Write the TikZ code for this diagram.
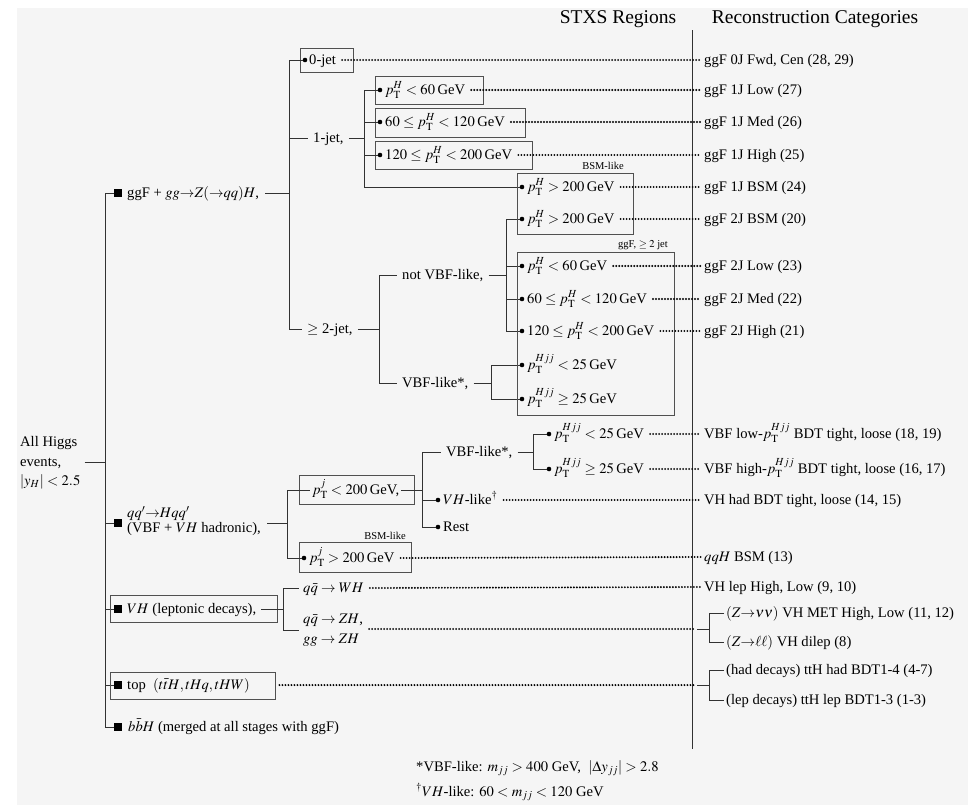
\documentclass[tikz,border=0pt]{standalone}
\usepackage{mathptmx}
\usepackage{fontspec}
\setmainfont{Liberation Serif}
\usetikzlibrary{fit}
\definecolor{bgc}{RGB}{245,245,245}
\definecolor{lnc}{RGB}{50,50,50}
\definecolor{bxc}{RGB}{80,80,80}
\tikzset{
  base/.style={font=\fontsize{14.6}{19}\selectfont, inner sep=2pt},
  txt/.style={base, anchor=west, text height=11pt, text depth=3pt},
  mtxt/.style={base, anchor=west, align=left},
  small/.style={font=\fontsize{10.5}{12}\selectfont, inner sep=0pt},
  ttl/.style={font=\fontsize{19.5}{23}\selectfont, inner sep=0pt},
  sqm/.style={fill=black, minimum size=7.5pt, inner sep=0pt},
  dotm/.style={circle, fill=black, minimum size=4.6pt, inner sep=0pt},
  conn/.style={draw=lnc, line width=0.9pt},
  dots/.style={draw=black, line width=2.1pt, line cap=round, dash pattern=on 0pt off 3pt, shorten <=4pt, shorten >=1pt},
  boxn/.style={draw=bxc, line width=0.9pt, inner sep=0pt},
}
\begin{document}
\begin{tikzpicture}[x=1pt,y=-1pt]
\useasboundingbox (0,0) rectangle (970,807);
\fill[bgc] (17,8) rectangle (968,805);

% titles
\node[ttl] (tSTXS) at (618,19) {STXS Regions};
\node[ttl] (tRC) at (815,19) {Reconstruction Categories};
\coordinate (sepT) at (692,30);
\coordinate (sepB) at (692,749);
\draw[conn] (sepT) -- (sepB);

% root
\node[mtxt, font=\fontsize{14.6}{19.5}\selectfont] (root) at (18,463) {All Higgs\\events,\\$|y_H| < 2.5$};
\coordinate (rb) at (105,462);
\draw[conn, shorten <=2pt] (root.east |- rb) -- (rb);

% level-1 squares and texts
\node[sqm] (s1) at (118,193) {};
\node[sqm] (s2) at (118,523) {};
\node[sqm] (s3) at (118,609) {};
\node[sqm] (s4) at (118,685) {};
\node[sqm] (s5) at (118,727) {};
\draw[conn] (s1.west -| rb) -- (s5.west -| rb);
\foreach \s in {s1,s2,s3,s4,s5} \draw[conn] (\s.west -| rb) -- (\s.west);

\node[txt] (l1) at (125,193) {ggF + $gg{\to}Z({\to}qq)H$,};
\node[mtxt, font=\fontsize{14.6}{15.5}\selectfont] (l2) at (125,521) {$qq'{\to}Hqq'$\\(VBF + $VH$ hadronic),};
\node[txt] (l3) at (125,609) {$VH$ (leptonic decays),};
\node[boxn, fit={(110,595)(277,622)}] (bx3) {};
\node[txt] (l4) at (125,685) {top\ \ $(t\bar{t}H, tHq, tHW)$};
\node[boxn, fit={(110,672)(275,699)}] (bx4) {};
\node[txt] (l5) at (126,727) {$b\bar{b}H$ (merged at all stages with ggF)};

% ggF subtree
\coordinate (gb) at (289,193);
\draw[conn, shorten <=4pt] (l1.east) -- (gb);
\node[dotm] (d0) at (305,60) {};
\node[txt] (n0) at (307,60) {0-jet};
\node[boxn, fit={(300,48)(353,72)}] (b0) {};
\node[txt] (j1) at (311,138) {1-jet,};
\node[txt] (j2) at (305,329) {$\geq$ 2-jet,};
\draw[conn] (d0 -| gb) -- (j2.west -| gb);
\draw[conn] (d0 -| gb) -- (d0);
\draw[conn, shorten >=3pt] (j1.west -| gb) -- (j1.west);
\draw[conn, shorten >=3pt] (j2.west -| gb) -- (j2.west);

% 1-jet
\coordinate (j1b) at (364,138);
\draw[conn, shorten <=3pt] (j1.east) -- (j1b);
\node[dotm] (d11) at (380,90) {};
\node[txt] (t11) at (383,90) {$p_{\mathrm{T}}^{H} < 60$\,GeV};
\node[boxn, fit={(375,76)(483,104)}] (b11) {};
\node[dotm] (d12) at (380,122) {};
\node[txt] (t12) at (383,122) {$60 \leq p_{\mathrm{T}}^{H} < 120$\,GeV};
\node[boxn, fit={(375,108)(525,137)}] (b12) {};
\node[dotm] (d13) at (380,155) {};
\node[txt] (t13) at (383,155) {$120 \leq p_{\mathrm{T}}^{H} < 200$\,GeV};
\node[boxn, fit={(375,141)(532,169)}] (b13) {};
\node[dotm] (d14) at (522,187) {};
\node[txt] (t14) at (525,187) {$p_{\mathrm{T}}^{H} > 200$\,GeV};
\draw[conn] (d11 -| j1b) -- (d14 -| j1b);
\foreach \d in {d11,d12,d13,d14} \draw[conn] (\d -| j1b) -- (\d);

% >=2-jet
\coordinate (j2b) at (379,329);
\draw[conn, shorten <=3pt] (j2.east) -- (j2b);
\node[txt] (nv) at (400,275) {not VBF-like,};
\node[txt] (vb) at (400,383) {VBF-like*,};
\draw[conn] (nv.west -| j2b) -- (vb.west -| j2b);
\draw[conn, shorten >=3pt] (nv.west -| j2b) -- (nv.west);
\draw[conn, shorten >=3pt] (vb.west -| j2b) -- (vb.west);
\coordinate (nvb) at (506,275);
\draw[conn, shorten <=3pt] (nv.east) -- (nvb);
\node[dotm] (d21) at (522,219) {};
\node[txt] (t21) at (525,219) {$p_{\mathrm{T}}^{H} > 200$\,GeV};
\node[dotm] (d22) at (522,266) {};
\node[txt] (t22) at (525,266) {$p_{\mathrm{T}}^{H} < 60$\,GeV};
\node[dotm] (d23) at (522,299) {};
\node[txt] (t23) at (525,299) {$60 \leq p_{\mathrm{T}}^{H} < 120$\,GeV};
\node[dotm] (d24) at (522,331) {};
\node[txt] (t24) at (525,331) {$120 \leq p_{\mathrm{T}}^{H} < 200$\,GeV};
\draw[conn] (d21 -| nvb) -- (d24 -| nvb);
\foreach \d in {d21,d22,d23,d24} \draw[conn] (\d -| nvb) -- (\d);
\coordinate (vbb) at (491,383);
\draw[conn, shorten <=3pt] (vb.east) -- (vbb);
\node[dotm] (d25) at (522,365) {};
\node[txt] (t25) at (525,365) {$p_{\mathrm{T}}^{Hjj} < 25$\,GeV};
\node[dotm] (d26) at (522,399) {};
\node[txt] (t26) at (525,399) {$p_{\mathrm{T}}^{Hjj} \geq 25$\,GeV};
\draw[conn] (d25 -| vbb) -- (d26 -| vbb);
\foreach \d in {d25,d26} \draw[conn] (\d -| vbb) -- (\d);

\node[boxn, fit={(517,173)(633,234)}] (bbsm) {};
\node[small] (lbsm) at (603,166) {BSM-like};
\node[boxn, fit={(517,252)(674,415)}] (bggf) {};
\node[small] (lggf) at (643,245) {ggF, $\geq 2$ jet};

% VBF + VH hadronic
\coordinate (l2b) at (287,523);
\draw[conn, shorten <=4pt] (l2.east |- l2b) -- (l2b);
\node[txt] (p1) at (310,490) {$p_{\mathrm{T}}^{j} < 200$\,GeV,};
\node[boxn, fit={(299,475)(414,504)}] (bp1) {};
\node[dotm] (d35) at (304,558) {};
\node[txt] (t35) at (307,558) {$p_{\mathrm{T}}^{j} > 200$\,GeV};
\node[boxn, fit={(299,542)(411,572)}] (bp2) {};
\node[small] (lbsm2) at (385,536) {BSM-like};
\draw[conn] (p1.west -| l2b) -- (d35 -| l2b);
\draw[conn] (p1.west -| l2b) -- (p1.west);
\draw[conn] (d35 -| l2b) -- (d35);
\coordinate (p1b) at (422,490);
\draw[conn] (p1.east) -- (p1b);
\node[txt] (v2) at (444,452) {VBF-like*,};
\node[dotm] (d33) at (438,500) {};
\node[txt] (t33) at (441,500) {$VH$-like$^{\dagger}$};
\node[dotm] (d34) at (438,527) {};
\node[txt] (t34) at (441,527) {Rest};
\draw[conn] (v2.west -| p1b) -- (d34 -| p1b);
\draw[conn, shorten >=3pt] (v2.west -| p1b) -- (v2.west);
\draw[conn] (d33 -| p1b) -- (d33);
\draw[conn] (d34 -| p1b) -- (d34);
\coordinate (v2b) at (533,452);
\draw[conn, shorten <=3pt] (v2.east) -- (v2b);
\node[dotm] (d31) at (549,434) {};
\node[txt] (t31) at (552,434) {$p_{\mathrm{T}}^{Hjj} < 25$\,GeV};
\node[dotm] (d32) at (549,469) {};
\node[txt] (t32) at (552,469) {$p_{\mathrm{T}}^{Hjj} \geq 25$\,GeV};
\draw[conn] (d31 -| v2b) -- (d32 -| v2b);
\foreach \d in {d31,d32} \draw[conn] (\d -| v2b) -- (\d);

% VH leptonic
\coordinate (l3b) at (283,609);
\draw[conn, shorten <=3pt] (l3.east) -- (l3b);
\node[txt] (w1) at (301,588) {$q\bar{q} \to WH$};
\node[mtxt, font=\fontsize{14.6}{20}\selectfont] (z1) at (301,630) {$q\bar{q} \to ZH$,\\$gg \to ZH$};
\draw[conn] (w1.west -| l3b) -- (z1.west -| l3b);
\draw[conn, shorten >=2pt] (w1.west -| l3b) -- (w1.west);
\draw[conn, shorten >=2pt] (z1.west -| l3b) -- (z1.west);

% categories
\node[txt] (c0) at (702,60) {ggF 0J Fwd, Cen (28, 29)};
\node[txt] (c11) at (702,90) {ggF 1J Low (27)};
\node[txt] (c12) at (702,122) {ggF 1J Med (26)};
\node[txt] (c13) at (702,155) {ggF 1J High (25)};
\node[txt] (c14) at (702,187) {ggF 1J BSM (24)};
\node[txt] (c21) at (702,219) {ggF 2J BSM (20)};
\node[txt] (c22) at (702,266) {ggF 2J Low (23)};
\node[txt] (c23) at (702,299) {ggF 2J Med (22)};
\node[txt] (c24) at (702,331) {ggF 2J High (21)};
\node[txt] (c31) at (702,434) {VBF low-$p_{\mathrm{T}}^{Hjj}$ BDT tight, loose (18, 19)};
\node[txt] (c32) at (702,469) {VBF high-$p_{\mathrm{T}}^{Hjj}$ BDT tight, loose (16, 17)};
\node[txt] (c33) at (702,500) {VH had BDT tight, loose (14, 15)};
\node[txt] (c35) at (702,557) {$qqH$ BSM (13)};
\node[txt] (cw) at (702,587) {VH lep High, Low (9, 10)};
\node[txt] (cz1) at (724,613) {$(Z{\to}\nu\nu)$ VH MET High, Low (11, 12)};
\node[txt] (cz2) at (724,642) {$(Z{\to}\ell\ell)$ VH dilep (8)};
\node[txt] (ct1) at (724,670) {(had decays) ttH had BDT1-4 (4-7)};
\node[txt] (ct2) at (724,700) {(lep decays) ttH lep BDT1-3 (1-3)};

% dotted links
\draw[dots] (n0.east) -- (c0.west);
\draw[dots] (t11.east) -- (c11.west);
\draw[dots] (t12.east) -- (c12.west);
\draw[dots] (t13.east) -- (c13.west);
\draw[dots] (t14.east) -- (c14.west);
\draw[dots] (t21.east) -- (c21.west);
\draw[dots] (t22.east) -- (c22.west);
\draw[dots] (t23.east) -- (c23.west);
\draw[dots] (t24.east) -- (c24.west);
\draw[dots] (t31.east) -- (c31.west);
\draw[dots] (t32.east) -- (c32.west);
\draw[dots] (t33.east) -- (c33.west);
\draw[dots] (t35.east) -- (c35.west);
\draw[dots] (w1.east) -- (cw.west);

\coordinate (zj) at (697,629);
\coordinate (zb) at (709,629);
\draw[dots] (z1.east |- zj) -- (zj);
\draw[conn] (zj) -- (zb);
\draw[conn] (cz1.west) -- (cz1.west -| zb) -- (cz2.west -| zb) -- (cz2.west);

\coordinate (tj) at (697,685);
\coordinate (tb) at (709,685);
\draw[dots] (bx4.east |- tj) -- (tj);
\draw[conn] (tj) -- (tb);
\draw[conn] (ct1.west) -- (ct1.west -| tb) -- (ct2.west -| tb) -- (ct2.west);

% footnotes
\node[txt] (fn1) at (414,767) {*VBF-like: $m_{jj} > 400$ GeV,\ \ $|\Delta y_{jj}| > 2.8$};
\node[txt] (fn2) at (414,792) {$^{\dagger}VH$-like: $60 < m_{jj} < 120$ GeV};
\end{tikzpicture}
\end{document}
